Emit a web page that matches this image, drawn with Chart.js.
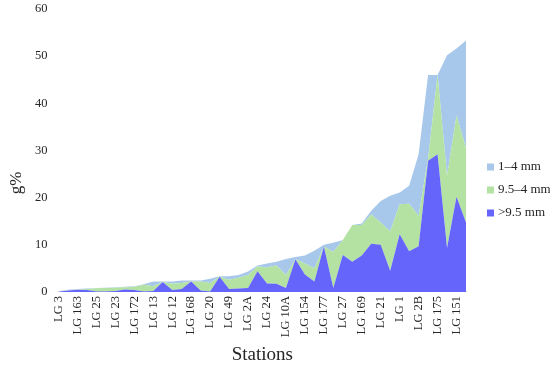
<!DOCTYPE html>
<html>
<head>
<meta charset="utf-8">
<script src="https://cdn.jsdelivr.net/npm/chart.js@4"></script>
<style>
    html, body { margin: 0; padding: 0; background: #fff; }
    #wrap { width: 550px; height: 368px; }
</style>
</head>
<body>
<div id="wrap"><canvas id="areaChart"></canvas></div>
<script>
// stations in sampling order (only every other name is printed on the axis)
var stations = [
    "LG 3", "", "LG 163", "", "LG 25", "", "LG 23", "", "LG 172", "", "LG 13", "",
    "LG 12", "", "LG 168", "", "LG 20", "", "LG 49", "", "LG 2A", "",
    "LG 24", "", "LG 10A", "", "LG 154", "", "LG 177", "", "LG 27", "",
    "LG 169", "", "LG 21", "", "LG 1", "", "LG 2B", "", "LG 175", "", "LG 151", ""
];

var coarse = [0.05, 0.3, 0.45, 0.4, 0.1, 0.1, 0.2, 0.5, 0.4, 0.1, 0.2, 2.1,
    0.4, 0.6, 2.2, 0.3, 0.1, 3.2, 0.6, 0.7, 0.8, 4.4,
    1.8, 1.7, 0.8, 6.9, 3.7, 2.2, 9.6, 0.8, 7.8, 6.4,
    7.7, 10.2, 10.0, 4.5, 12.2, 8.6, 9.7, 27.8, 29.2, 9.3, 20.2, 14.7];

var medium = [0.05, 0.05, 0.05, 0.2, 0.65, 0.7, 0.7, 0.5, 0.7, 1.4, 1.0, 0.0,
    1.3, 1.3, 0.0, 1.9, 1.8, 0.0, 2.0, 2.3, 2.8, 1.0,
    3.4, 3.9, 2.8, 0.0, 2.3, 2.8, 0.0, 7.7, 3.2, 7.8,
    6.5, 6.2, 4.7, 8.3, 6.4, 10.1, 6.4, 0.5, 16.8, 15.3, 17.2, 15.8];

var fine = [0.05, 0.1, 0.1, 0.1, 0.1, 0.1, 0.1, 0.1, 0.1, 0.1, 1.0, 0.1,
    0.5, 0.5, 0.2, 0.2, 0.9, 0.1, 0.7, 0.6, 0.7, 0.2,
    0.8, 0.8, 3.4, 0.5, 1.7, 3.7, 0.4, 1.9, 0.0, 0.0,
    0.3, 0.8, 4.6, 7.6, 2.5, 3.8, 13.1, 17.7, 0.0, 25.6, 14.2, 22.8];

var yTicks = [0, 10, 20, 30, 40, 50, 60];

var serif = "'Liberation Serif', 'Times New Roman', serif";
var textColor = "#262626";

// y title and legend are placed by hand, like the original figure
var sideText = {
    id: "sideText",
    afterDraw: function(chart) {
        var ctx = chart.ctx;
        ctx.save();
        ctx.fillStyle = textColor;
        ctx.font = "17px " + serif;
        ctx.textAlign = "center";
        ctx.textBaseline = "middle";
        ctx.translate(17, 183);
        ctx.rotate(-Math.PI / 2);
        ctx.fillText("g%", 0, 0);
        ctx.restore();

        ctx.save();
        ctx.font = "13px " + serif;
        ctx.textAlign = "left";
        ctx.textBaseline = "middle";
        var sets = chart.data.datasets.slice().reverse();
        sets.forEach(function(ds, k) {
            var y = 167 + k * 23;
            ctx.fillStyle = ds.backgroundColor;
            ctx.fillRect(487, y - 3.5, 7, 7);
            ctx.fillStyle = textColor;
            ctx.fillText(ds.label, 498, y);
        });
        ctx.restore();
    }
};

var ctx1 = document.getElementById("areaChart").getContext("2d");
var myChart = new Chart(ctx1, {
    type: "line",
    data: {
        labels: stations,
        datasets: [
            {
                label: ">9.5 mm",
                data: coarse,
                backgroundColor: "#6565fb",
                borderWidth: 0,
                pointRadius: 0,
                fill: "origin",
                tension: 0
            },
            {
                label: "9.5\u20134 mm",
                data: medium,
                backgroundColor: "#b3e2a2",
                borderWidth: 0,
                pointRadius: 0,
                fill: "-1",
                tension: 0
            },
            {
                label: "1\u20134 mm",
                data: fine,
                backgroundColor: "#a7c8eb",
                borderWidth: 0,
                pointRadius: 0,
                fill: "-1",
                tension: 0
            }
        ]
    },
    options: {
        responsive: true,
        maintainAspectRatio: false,
        animation: false,
        layout: {
            padding: { left: 24, right: 84, top: 9, bottom: 2 }
        },
        plugins: {
            legend: { display: false },
            tooltip: { enabled: false }
        },
        scales: {
            y: {
                stacked: true,
                min: yTicks[0],
                max: yTicks[yTicks.length - 1],
                afterFit: function(scale) {
                    scale.paddingTop = 0;
                },
                ticks: {
                    stepSize: yTicks[1] - yTicks[0],
                    color: textColor,
                    padding: 11,
                    font: { family: serif, size: 12.5 }
                },
                grid: { display: false, drawTicks: false },
                border: { display: false }
            },
            x: {
                stacked: true,
                offset: false,
                ticks: {
                    autoSkip: false,
                    minRotation: 90,
                    maxRotation: 90,
                    color: textColor,
                    padding: 4,
                    font: { family: serif, size: 12.5 }
                },
                grid: { display: false, drawTicks: false },
                border: { display: true, color: "#d9d9d9" },
                title: {
                    display: true,
                    text: "Stations",
                    color: textColor,
                    font: { family: serif, size: 19 },
                    padding: { top: 2, bottom: 0 }
                }
            }
        }
    },
    plugins: [sideText]
});
</script>
</body>
</html>
